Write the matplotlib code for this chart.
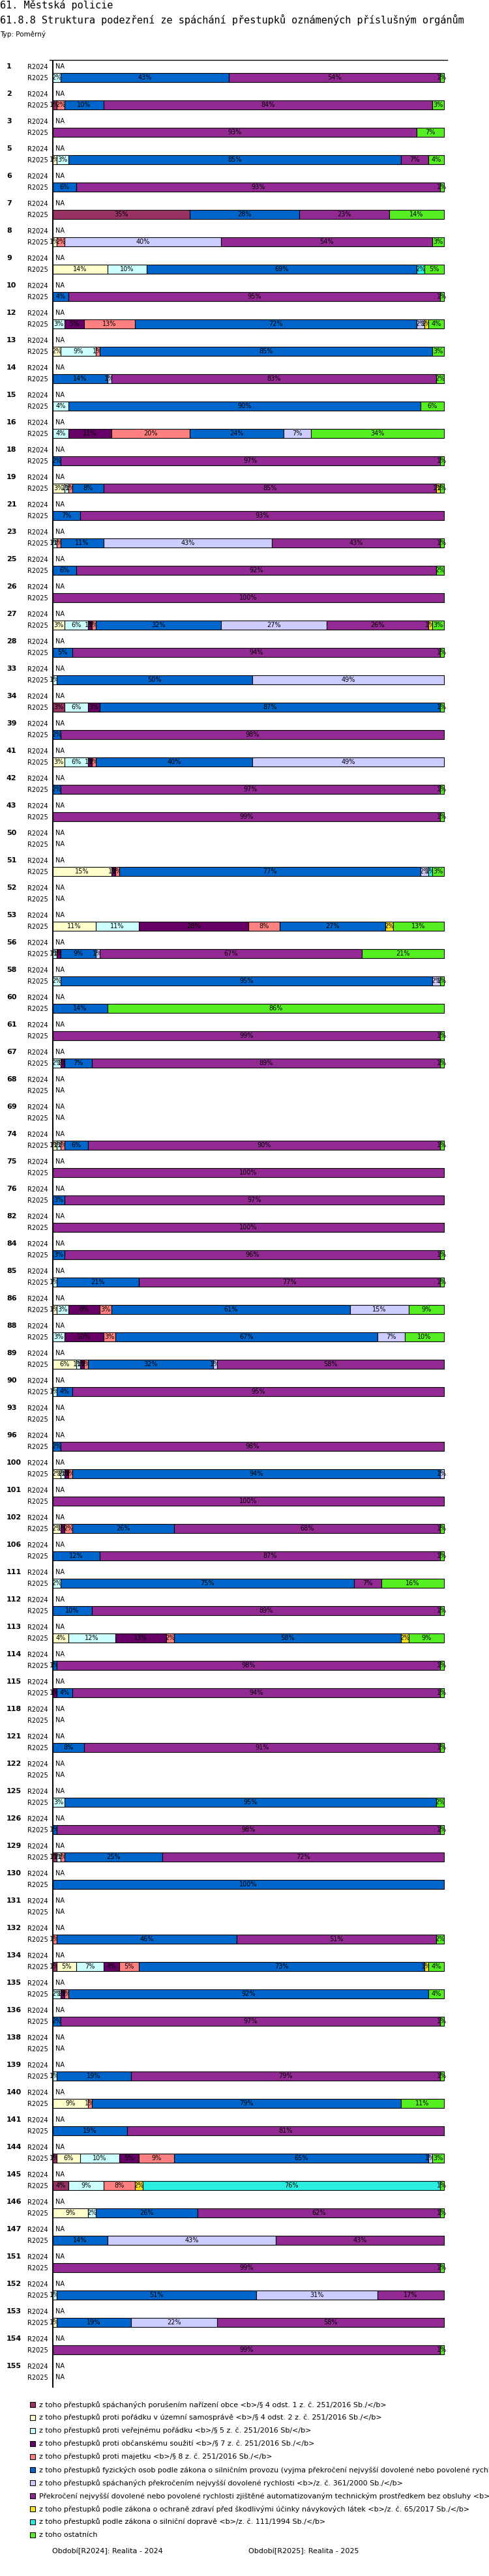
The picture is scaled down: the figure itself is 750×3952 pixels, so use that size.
import numpy as np
import matplotlib
matplotlib.use("Agg")
import matplotlib.pyplot as plt
import matplotlib.transforms as mtransforms
from matplotlib.patches import Rectangle

W, H = 750, 3952   # output size in pixels (dpi 100)

GROUPS = [1, 2, 3, 5, 6, 7, 8, 9, 10, 12, 13, 14, 15, 16, 18, 19, 21, 23, 25, 26,
          27, 28, 33, 34, 39, 41, 42, 43, 50, 51, 52, 53, 56, 58, 60, 61, 67, 68, 69, 74,
          75, 76, 82, 84, 85, 86, 88, 89, 90, 93, 96, 100, 101, 102, 106, 111, 112, 113, 114, 115,
          118, 121, 122, 125, 126, 129, 130, 131, 132, 134, 135, 136, 138, 139, 140, 141, 144, 145, 146, 147,
          151, 152, 153, 154, 155]
PERIODS = ["R2024", "R2025"]

LEGEND = [
    "z toho přestupků spáchaných porušením nařízení obce <b>/§ 4 odst. 1 z. č. 251/2016 Sb./</b>",
    "z toho přestupků proti pořádku v územní samosprávě <b>/§ 4 odst. 2 z. č. 251/2016 Sb./</b>",
    "z toho přestupků proti veřejnému pořádku <b>/§ 5 z. č. 251/2016 Sb/</b>",
    "z toho přestupků proti občanskému soužití <b>/§ 7 z. č. 251/2016 Sb./</b>",
    "z toho přestupků proti majetku <b>/§ 8 z. č. 251/2016 Sb./</b>",
    "z toho přestupků fyzických osob podle zákona o silničním provozu (vyjma překročení nejvyšší dovolené nebo povolené rychlosti) <b>/z. č. 361/2000 Sb./</b>",
    "z toho přestupků spáchaných překročením nejvyšší dovolené rychlosti <b>/z. č. 361/2000 Sb./</b>",
    "Překročení nejvyšší dovolené nebo povolené rychlosti zjištěné automatizovaným technickým prostředkem bez obsluhy <b>/z. č. 361/2000 Sb./</b>",
    "z toho přestupků podle zákona o ochraně zdraví před škodlivými účinky návykových látek <b>/z. č. 65/2017 Sb./</b>",
    "z toho přestupků podle zákona o silniční dopravě <b>/z. č. 111/1994 Sb./</b>",
    "z toho ostatních",
]
COLORS = ["#993366", "#FFFFCC", "#CCFFFF", "#660066", "#FF8080", "#0066CC",
          "#CCCCFF", "#932A93", "#F5E11E", "#29EEE0", "#55EE22"]

# R2025 shares in % per group (group number -> value); R2024 is NA for every group
OBCE = {2: 1, 7: 35, 34: 3, 129: 1, 134: 1, 144: 1, 145: 4}
PORADEK = {5: 1, 8: 1, 9: 14, 13: 2, 19: 3, 27: 3, 41: 3, 51: 15, 53: 11, 74: 1, 86: 1, 89: 6,
           100: 2, 102: 2, 113: 4, 134: 5, 140: 9, 144: 6, 146: 9, 153: 1}
VEREJNY = {1: 2, 5: 3, 9: 10, 12: 3, 13: 9, 15: 4, 16: 4, 19: 1, 23: 1, 27: 6, 33: 1, 34: 6,
           41: 6, 53: 11, 56: 1, 58: 2, 67: 2, 74: 1, 85: 1, 86: 3, 88: 3, 89: 1, 90: 1, 100: 1,
           111: 2, 113: 12, 125: 3, 129: 1, 134: 7, 135: 2, 139: 1, 144: 10, 145: 9, 146: 2, 152: 1}
SOUZITI = {12: 5, 16: 11, 27: 1, 34: 3, 41: 1, 51: 1, 53: 28, 56: 1, 67: 1, 86: 8, 88: 10, 89: 1,
           100: 1, 102: 1, 113: 13, 115: 1, 134: 4, 135: 1, 144: 5}
MAJETEK = {2: 2, 8: 2, 12: 13, 13: 1, 16: 20, 19: 1, 23: 1, 27: 1, 41: 1, 51: 1, 53: 8, 74: 1,
           86: 3, 88: 3, 89: 1, 100: 1, 102: 2, 113: 2, 129: 1, 132: 1, 134: 5, 135: 1, 140: 1,
           144: 9, 145: 8}
SILNICNI = {1: 43, 2: 10, 5: 85, 6: 6, 7: 28, 9: 69, 10: 4, 12: 72, 13: 85, 14: 14, 15: 90, 16: 24,
            18: 2, 19: 8, 21: 7, 23: 11, 25: 6, 27: 32, 28: 5, 33: 50, 34: 87, 39: 2, 41: 40, 42: 2,
            51: 77, 53: 27, 56: 9, 58: 95, 60: 14, 67: 7, 74: 6, 76: 3, 84: 3, 85: 21, 86: 61, 88: 67,
            89: 32, 90: 4, 96: 2, 100: 94, 102: 26, 106: 12, 111: 75, 112: 10, 113: 58, 114: 1, 115: 4,
            121: 8, 125: 95, 126: 1, 129: 25, 130: 100, 132: 46, 134: 73, 135: 92, 136: 2, 139: 19,
            140: 79, 141: 19, 144: 65, 146: 26, 147: 14, 152: 51, 153: 19}
RYCHLOST = {8: 40, 12: 2, 14: 1, 16: 7, 23: 43, 27: 27, 33: 49, 41: 49, 51: 2, 56: 1, 58: 2, 86: 15,
            88: 7, 89: 1, 100: 1, 144: 1, 147: 43, 152: 31, 153: 22}
AUTOMAT = {1: 54, 2: 84, 3: 93, 5: 7, 6: 93, 7: 23, 8: 54, 10: 95, 14: 83, 18: 97, 19: 85, 21: 93,
           23: 43, 25: 92, 26: 100, 27: 26, 28: 94, 39: 98, 42: 97, 43: 99, 56: 67, 61: 99, 67: 89,
           74: 90, 75: 100, 76: 97, 82: 100, 84: 96, 85: 77, 89: 58, 90: 95, 96: 98, 101: 100, 102: 68,
           106: 87, 111: 7, 112: 89, 114: 98, 115: 94, 121: 91, 126: 98, 129: 72, 132: 51, 136: 97,
           139: 79, 141: 81, 146: 62, 147: 43, 151: 99, 152: 17, 153: 58, 154: 99}
NAVYK = {12: 1, 19: 1, 27: 1, 53: 2, 113: 2, 134: 1, 145: 2}
DOPRAVA = {9: 2, 51: 1, 145: 76}
OSTATNI = {1: 1, 2: 3, 3: 7, 5: 4, 6: 1, 7: 14, 8: 3, 9: 5, 10: 1, 12: 4, 13: 3, 14: 2, 15: 6, 16: 34,
           18: 1, 19: 1, 23: 1, 25: 2, 27: 3, 28: 1, 34: 1, 42: 1, 43: 1, 51: 3, 53: 13, 56: 21, 58: 1,
           60: 86, 61: 1, 67: 1, 74: 1, 84: 1, 85: 1, 86: 9, 88: 10, 102: 1, 106: 1, 111: 16, 112: 1,
           113: 9, 114: 1, 115: 1, 121: 1, 125: 2, 126: 1, 132: 2, 134: 4, 135: 4, 136: 1, 139: 1,
           140: 11, 144: 3, 145: 1, 146: 1, 151: 1, 154: 1}

SERIES = [OBCE, PORADEK, VEREJNY, SOUZITI, MAJETEK, SILNICNI, RYCHLOST, AUTOMAT, NAVYK, DOPRAVA, OSTATNI]


def px_x(p):
    return p / W


def px_y(p):
    return 1 - p / H


def main():
    vals = np.array([[s.get(g, 0) for g in GROUPS] for s in SERIES], float)   # (11, n)
    tot = vals.sum(0)
    has = tot > 0
    share = np.where(has, vals / np.where(has, tot, 1) * 100, 0)
    n = len(GROUPS)
    idx = np.arange(n)
    y24 = idx.astype(float)
    y25 = idx + 0.405
    bh = 0.345

    fig = plt.figure(figsize=(W / 100, H / 100), dpi=100)
    ax = fig.add_axes([px_x(76), px_y(3663), px_x(610), (3663 - 92) / H])
    ax.set_xlim(-5 / 6, 100 + 5 / 6)
    ax.set_ylim((3663 - 102) / 42, (92 - 102) / 42)

    left = np.zeros(n)
    for k, (s, c) in enumerate(zip(share, COLORS)):
        m = s > 0
        ax.barh(y25[m], s[m], left=left[m], height=bh, color=c, edgecolor="black",
                lw=0.8, zorder=2 + 2 * k)
        for i in np.where(m)[0]:
            ax.text(left[i] + s[i] / 2, y25[i], f"{vals[k, i]:.0f}%", ha="center", va="center",
                    fontsize=7, zorder=3 + 2 * k, clip_on=False)
        left = left + s

    for i in idx:
        ax.text(0.7, y24[i], "NA", ha="left", va="center", fontsize=7)
        if not has[i]:
            ax.text(0.7, y25[i], "NA", ha="left", va="center", fontsize=7)

    ax.set_yticks(np.concatenate([y24, y25]))
    ax.set_yticklabels([PERIODS[0]] * n + [PERIODS[1]] * n, fontsize=7)
    ax.tick_params(axis="y", length=0, pad=1.5)
    ax.set_xticks([])
    for sp in ("left", "right", "bottom"):
        ax.spines[sp].set_visible(False)
    ax.spines["top"].set_linewidth(1.0)
    ax.axvline(0, color="black", lw=1.5, zorder=50)

    tr = mtransforms.blended_transform_factory(fig.transFigure, ax.transData)
    for i, g in enumerate(GROUPS):
        ax.text(px_x(10), y24[i], str(g), transform=tr, ha="left", va="center",
                fontsize=8, fontweight="bold")

    fig.text(0, px_y(8), "61. Městská policie", family="DejaVu Sans Mono", fontsize=11, va="center")
    fig.text(0, px_y(30), "61.8.8 Struktura podezření ze spáchání přestupků oznámených příslušným orgánům",
             family="DejaVu Sans Mono", fontsize=11, va="center")
    fig.text(0, px_y(52), "Typ: Poměrný", fontsize=7.5, va="center")

    for k, (lab, c) in enumerate(zip(LEGEND, COLORS)):
        yc = 3689 + 20 * k
        fig.patches.append(Rectangle((px_x(46), px_y(yc + 4)), px_x(8), 8 / H, transform=fig.transFigure,
                                     facecolor=c, edgecolor="black", lw=0.8))
        fig.text(px_x(60), px_y(yc), lab, fontsize=8, va="center")

    fig.text(px_x(80), px_y(3914), "Období[R2024]: Realita - 2024", fontsize=8, va="center")
    fig.text(px_x(381), px_y(3914), "Období[R2025]: Realita - 2025", fontsize=8, va="center")

    fig.savefig("out.png", dpi=100)
    plt.close(fig)


if __name__ == "__main__":
    main()
